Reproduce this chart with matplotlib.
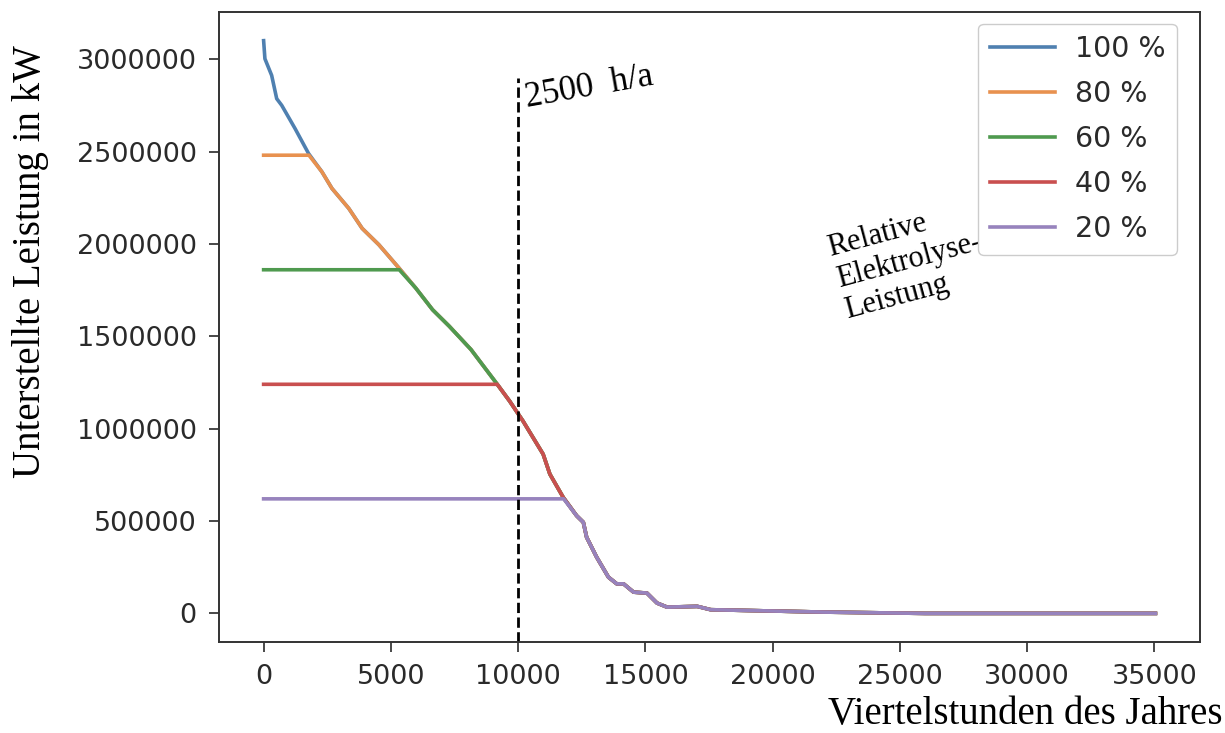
import numpy as np
import matplotlib
matplotlib.use("Agg")
import matplotlib.pyplot as plt

# Jahresdauerlinie, Viertelstunden vs. kW
quarter_hours = [0, 51, 316, 514, 711, 1236, 1766,
                 2291, 2686, 3346, 3871, 4531, 5321,
                 5977, 6636, 7296, 8149, 9137,
                 9666, 10192, 10982, 11247, 11772,
                 12297, 12562, 12692, 13087, 13549, 13877, 14142, 14537,
                 15062, 15457, 15852, 17037, 17567, 22042, 25992, 35040]
power_kw = [3100000, 3002000, 2912000, 2786000, 2750000, 2624000, 2489000,
            2390000, 2300000, 2192000, 2084000, 1995000, 1869000,
            1761000, 1644000, 1554000, 1428000, 1248000,
            1149000, 1041000, 862000, 754000, 628000,
            529000, 493000, 412000, 304000, 196000, 160000, 160000, 115000,
            110000, 56000, 34000, 38000, 20000, 7000, 0, 0]

labels = ["100 %", "80 %", "60 %", "40 %", "20 %"]
levels_kw = [3100000, 2480000, 1860000, 1240000, 620000]
cut_x = [0, 1780, 5330, 9180, 11790]
colors = ["#4f80b0", "#e8914f", "#4f9a4f", "#c94f4f", "#9783bd"]

x_base = np.array(quarter_hours)
y_base = np.array(power_kw)

fig = plt.figure(figsize=(12.25, 7.33), dpi=100)
ax = fig.add_axes([0.1788, 0.1241, 0.8008, 0.8595])

for lab, lev, cx, c in zip(labels, levels_kw, cut_x, colors):
    keep = x_base > cx
    xs = np.concatenate([[0, cx], x_base[keep]])
    ys = np.concatenate([[lev, lev], y_base[keep]])
    ax.plot(xs, ys, lw=2.6, color=c, label=lab)

ax.vlines(10000, -155000, 2900000, colors="black", linestyles="dashed", lw=2)

ax.set_xlim(-1752, 36792)
ax.set_ylim(-155000, 3255000)
ax.set_xticks(np.arange(0, 35001, 5000))
ax.set_yticks(np.arange(0, 3000001, 500000))
ax.ticklabel_format(style="plain")
ax.tick_params(labelsize=19.5, length=7, width=1.2, pad=9, colors="#2a2a2a")
for s in ax.spines.values():
    s.set_linewidth(1.4)
    s.set_color("#333333")

serif = "Liberation Serif"
ax.text(10400, 2700000, "2500  h/a", fontsize=25, family=serif,
        rotation=10, rotation_mode="anchor", ha="left", va="bottom")
ax.text(23000, 1560000, "Relative\nElektrolyse-\nLeistung", fontsize=22,
        family=serif, rotation=15, rotation_mode="anchor",
        ha="left", va="bottom", multialignment="left", linespacing=1.15)

leg = ax.legend(loc="upper right", bbox_to_anchor=(0.991, 1.004), fontsize=20.5,
                handlelength=2.3, labelspacing=0.6, borderpad=0.4,
                framealpha=1, handletextpad=0.7, borderaxespad=0.5)
for t in leg.get_texts():
    t.set_color("#2a2a2a")

fig.text(0.998, 0.0, "Viertelstunden des Jahres", fontsize=28, family=serif,
         ha="right", va="bottom")
fig.text(0.025, 0.643, "Unterstellte Leistung in kW", fontsize=28, family=serif,
         rotation=90, ha="center", va="center")

fig.savefig("out.png", dpi=100)
